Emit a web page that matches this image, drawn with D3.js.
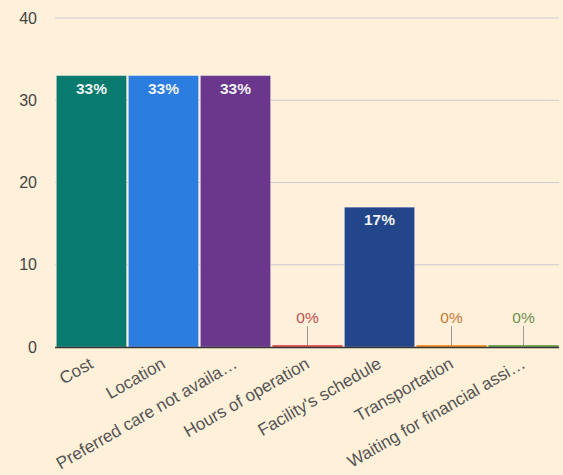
<!DOCTYPE html>
<html><head><meta charset="utf-8">
<script src="https://cdn.jsdelivr.net/npm/d3@7"></script>
<style>html,body{margin:0;padding:0;background:#fff0d9;}svg{display:block;}</style>
</head><body>
<svg id="c" width="563" height="475"></svg>
<script>
const categories = ["Cost","Location","Preferred care not availa\u2026","Hours of operation","Facility's schedule","Transportation","Waiting for financial assi\u2026"];
const values = [33,33,33,0,17,0,0];
const labels = ["33%","33%","33%","0%","17%","0%","0%"];
const colors = ["#087a6e","#2b7de0","#6b378c","#e85a5a","#23468a","#f7962e","#7aa658"];
const zeroLabelColors = ["#c05050","#c05050","#c05050","#c05050","#c05050","#c57a35","#6e8f52"];
const yTicks = [0,10,20,30,40];

const FONT = "'Liberation Sans', Arial, sans-serif";
const svg = d3.select("#c");
const W=563,H=475;
svg.append("rect").attr("width",W).attr("height",H).attr("fill","#fff0d9");
const x = d3.scaleBand().domain(categories).range([56,559]).paddingInner(0.025).paddingOuter(0.005);
const y = d3.scaleLinear().domain([0,40]).range([347,18]);

const g = svg.append("g");
g.selectAll("line.grid").data(yTicks.filter(d=>d>0)).join("line")
 .attr("x1",55).attr("x2",559).attr("y1",d=>y(d)).attr("y2",d=>y(d))
 .attr("stroke","#c9ccd4").attr("stroke-width",1);
g.selectAll("text.yl").data(yTicks).join("text")
 .attr("x",37).attr("y",d=>y(d)).attr("dy","0.35em").attr("text-anchor","end")
 .attr("font-family",FONT).attr("font-size",16).attr("fill","#444")
 .text(d=>d);
const data = categories.map((c,i)=>({c,v:values[i],l:labels[i],col:colors[i],lc:zeroLabelColors[i]}));
g.selectAll("rect.bar").data(data).join("rect")
 .attr("x",d=>x(d.c)).attr("width",x.bandwidth())
 .attr("y",d=>d.v>0?y(d.v):y(0)-2).attr("height",d=>d.v>0?y(0)-y(d.v):2)
 .attr("fill",d=>d.col).attr("stroke",d=>d.v>0?"rgba(255,255,255,0.35)":"none").attr("stroke-width",1);
g.selectAll("text.vl").data(data.filter(d=>d.v>0)).join("text")
 .attr("x",d=>x(d.c)+x.bandwidth()/2).attr("y",d=>y(d.v)+18).attr("text-anchor","middle")
 .attr("font-family",FONT).attr("font-size",15.5).attr("font-weight","bold")
 .attr("fill","#eef2f2").text(d=>d.l);
const z = data.filter(d=>d.v===0);
g.selectAll("line.lead").data(z).join("line")
 .attr("x1",d=>x(d.c)+x.bandwidth()/2).attr("x2",d=>x(d.c)+x.bandwidth()/2)
 .attr("y1",326).attr("y2",y(0)-2).attr("stroke","#999").attr("stroke-width",1);
g.selectAll("text.zl").data(z).join("text")
 .attr("x",d=>x(d.c)+x.bandwidth()/2).attr("y",323).attr("text-anchor","middle")
 .attr("font-family",FONT).attr("font-size",15.5)
 .attr("fill",d=>d.lc).text(d=>d.l);
g.append("line").attr("x1",55).attr("x2",559).attr("y1",y(0)+0.5).attr("y2",y(0)+0.5)
 .attr("stroke","#333").attr("stroke-width",1.3);
g.selectAll("text.xl").data(data).join("text")
 .attr("transform",d=>`translate(${x(d.c)+x.bandwidth()/2+3},${y(0)+20}) rotate(-30)`)
 .attr("text-anchor","end")
 .attr("font-family",FONT).attr("font-size",17.2).attr("fill","#555")
 .text(d=>d.c);
</script>
</body></html>
